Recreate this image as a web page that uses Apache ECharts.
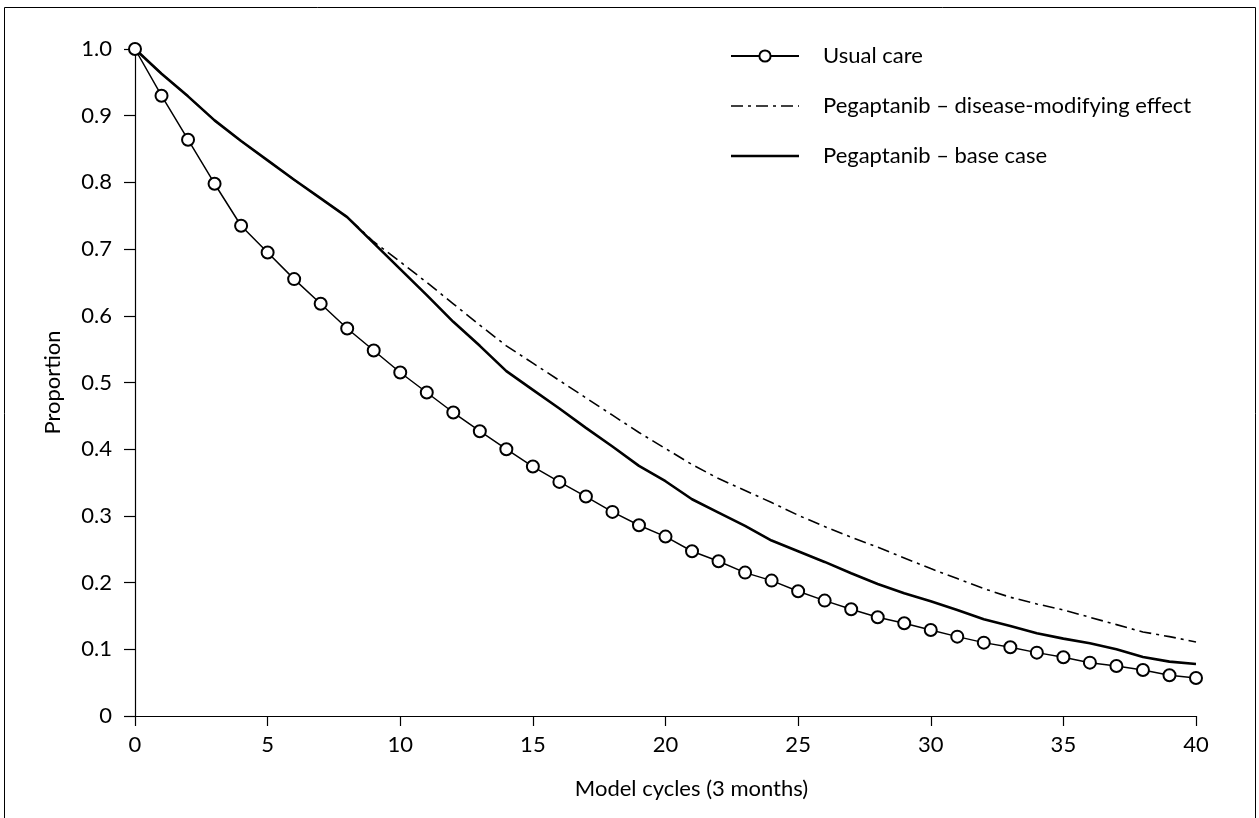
<!DOCTYPE html>
<html>
<head>
<meta charset="utf-8">
<script src="https://cdn.jsdelivr.net/npm/echarts@6/dist/echarts.min.js"></script>
<style>
html,body{margin:0;padding:0;background:#fff;}
#chart{width:1259px;height:818px;}
</style>
</head>
<body>
<div id="chart"></div>
<script>
const cycles = [0,1,2,3,4,5,6,7,8,9,10,11,12,13,14,15,16,17,18,19,20,21,22,23,24,25,26,27,28,29,30,31,32,33,34,35,36,37,38,39,40];
const usualCare = [1.0,0.93,0.864,0.798,0.735,0.695,0.655,0.618,0.581,0.548,0.515,0.485,0.455,0.427,0.400,0.374,0.351,0.329,0.306,0.286,0.269,0.247,0.232,0.215,0.203,0.187,0.173,0.160,0.148,0.139,0.129,0.119,0.110,0.103,0.095,0.088,0.080,0.075,0.069,0.061,0.057];
const diseaseModifying = [1.0,0.963,0.929,0.893,0.862,0.833,0.804,0.776,0.748,0.711,0.681,0.650,0.618,0.586,0.555,0.529,0.503,0.477,0.451,0.425,0.401,0.377,0.356,0.338,0.320,0.301,0.284,0.268,0.253,0.237,0.221,0.206,0.191,0.178,0.168,0.159,0.148,0.137,0.126,0.119,0.111];
const baseCase = [1.0,0.963,0.929,0.893,0.862,0.833,0.804,0.776,0.748,0.709,0.670,0.631,0.591,0.555,0.517,0.489,0.461,0.432,0.404,0.375,0.352,0.325,0.305,0.285,0.263,0.247,0.231,0.214,0.198,0.184,0.172,0.159,0.145,0.135,0.124,0.116,0.109,0.100,0.0885,0.0815,0.078];
const seriesNames = ['Usual care','Pegaptanib \u2013 disease-modifying effect','Pegaptanib \u2013 base case'];
const xTitle = 'Model cycles (3 months)';
const yTitle = 'Proportion';

const pair = (ys) => cycles.map((c, i) => [c, ys[i]]);
const FONT = 'Lato, "Open Sans", sans-serif';

// legend icons: plain line for base case, dash-dot for disease-modifying
const solidIcon = 'path://M0,0h68v2.6h-68z';
const dashDotIcon = 'path://M0,0h12v1.6h-12z M17,0h3v1.6h-3z M25,0h12v1.6h-12z M42,0h3v1.6h-3z M50,0h12v1.6h-12z M67,0h1v1.6h-1z';

const chart = echarts.init(document.getElementById('chart'), null, {renderer: 'canvas'});
chart.setOption({
  backgroundColor: '#fff',
  animation: false,
  graphic: [{
    type: 'rect',
    shape: {x: 4.5, y: 7.5, width: 1251, height: 840},
    style: {fill: 'none', stroke: '#000', lineWidth: 1},
    silent: true
  }],
  grid: {left: 135, right: 63, top: 49, bottom: 102, containLabel: false},
  legend: {
    orient: 'vertical',
    left: 730,
    top: 45,
    padding: 0,
    itemWidth: 68,
    itemHeight: 14,
    itemGap: 28,
    symbolKeepAspect: true,
    data: [
      {name: seriesNames[0]},
      {name: seriesNames[1], icon: dashDotIcon},
      {name: seriesNames[2], icon: solidIcon}
    ],
    textStyle: {fontSize: 22, color: '#000', fontFamily: FONT, padding: [0, 0, 0, 19]}
  },
  xAxis: {
    type: 'value',
    min: 0, max: 40, interval: 5,
    name: xTitle,
    nameLocation: 'middle',
    nameGap: 62,
    nameTextStyle: {fontSize: 22, color: '#000', fontFamily: FONT, padding: [0, 0, 0, 52]},
    axisLine: {lineStyle: {color: '#000', width: 1.2}},
    axisTick: {length: 10, lineStyle: {color: '#000', width: 1.2}},
    axisLabel: {fontSize: 22, color: '#000', fontFamily: FONT, margin: 18},
    splitLine: {show: false}
  },
  yAxis: {
    type: 'value',
    min: 0, max: 1, interval: 0.1,
    name: yTitle,
    nameLocation: 'middle',
    nameGap: 71,
    nameTextStyle: {fontSize: 22, color: '#000', fontFamily: FONT},
    axisLine: {show: true, lineStyle: {color: '#000', width: 1.2}},
    axisTick: {show: true, length: 11, lineStyle: {color: '#000', width: 1.2}},
    axisLabel: {fontSize: 22, color: '#000', fontFamily: FONT, margin: 23,
      formatter: (v) => v === 0 ? '0' : v.toFixed(1)},
    splitLine: {show: false}
  },
  series: [
    {
      name: seriesNames[1],
      type: 'line',
      data: pair(diseaseModifying),
      showSymbol: false,
      symbol: 'none',
      lineStyle: {color: '#000', width: 1.6, type: [12, 5, 3, 5]},
      itemStyle: {color: '#000'},
      z: 2
    },
    {
      name: seriesNames[2],
      type: 'line',
      data: pair(baseCase),
      showSymbol: false,
      symbol: 'none',
      lineStyle: {color: '#000', width: 2.6},
      itemStyle: {color: '#000'},
      z: 3
    },
    {
      name: seriesNames[0],
      type: 'line',
      data: pair(usualCare),
      symbol: 'emptyCircle',
      symbolSize: 12,
      showAllSymbol: true,
      lineStyle: {color: '#000', width: 1.5},
      itemStyle: {color: '#000', borderWidth: 1.6, borderColor: '#000'},
      z: 4
    }
  ]
});
</script>
</body>
</html>
